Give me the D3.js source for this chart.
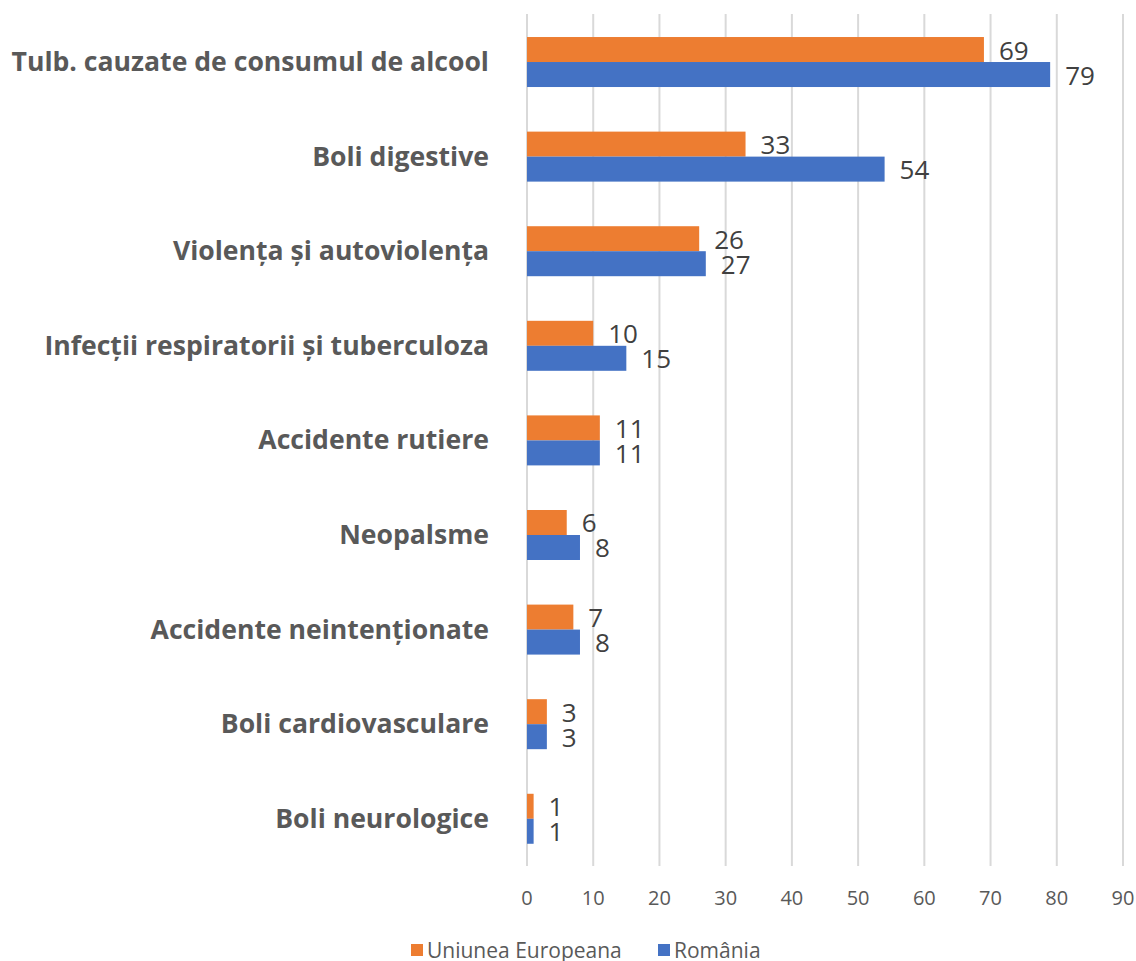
<!DOCTYPE html>
<html>
<head>
<meta charset="utf-8">
<script src="https://cdn.jsdelivr.net/npm/d3@7"></script>
<style>
  body { margin: 0; background: #fff; }
  text { font-family: "Open Sans", sans-serif; }
</style>
</head>
<body>
<div id="chart"></div>
<script>
var categories = ["Tulb. cauzate de consumul de alcool", "Boli digestive", "Violența și autoviolența",
                  "Infecții respiratorii și tuberculoza", "Accidente rutiere", "Neopalsme",
                  "Accidente neintenționate", "Boli cardiovasculare", "Boli neurologice"];
var euValues = [69, 33, 26, 10, 11, 6, 7, 3, 1];
var roValues = [79, 54, 27, 15, 11, 8, 8, 3, 1];
var seriesNames = ["Uniunea Europeana", "România"];
var colors = ["#ED7D31", "#4472C4"];
var ticks = [0, 10, 20, 30, 40, 50, 60, 70, 80, 90];

var width = 1136, height = 961;

var svg = d3.select("#chart").append("svg")
    .attr("width", width)
    .attr("height", height);

var x = d3.scaleLinear().domain([0, 90]).range([527, 1123]);
var y = d3.scaleBand().domain(categories).range([14.7, 866.1]).paddingInner(0.4715).paddingOuter(0.236);
var sub = d3.scaleBand().domain([0, 1]).range([0, y.bandwidth()]);

// gridlines (extend a bit below as tick marks)
svg.append("g").selectAll("line")
    .data(ticks)
    .enter().append("line")
    .attr("x1", d => x(d)).attr("x2", d => x(d))
    .attr("y1", 14).attr("y2", 866)
    .attr("stroke", "#d9d9d9")
    .attr("stroke-width", 2);

// tick labels
svg.append("g").selectAll("text")
    .data(ticks)
    .enter().append("text")
    .attr("x", d => x(d))
    .attr("y", 905)
    .attr("text-anchor", "middle")
    .attr("fill", "#595959")
    .style("font-size", "20px")
    .text(d => d);

var data = categories.map((c, i) => ({cat: c, vals: [euValues[i], roValues[i]]}));

var groups = svg.append("g").selectAll("g")
    .data(data)
    .enter().append("g")
    .attr("transform", d => "translate(0," + y(d.cat) + ")");

groups.selectAll("rect")
    .data(d => d.vals)
    .enter().append("rect")
    .attr("x", x(0))
    .attr("y", (d, j) => sub(j))
    .attr("width", d => x(d) - x(0))
    .attr("height", sub.bandwidth())
    .attr("fill", (d, j) => colors[j]);

groups.selectAll("text.val")
    .data(d => d.vals)
    .enter().append("text")
    .attr("class", "val")
    .attr("x", d => x(d) + 15)
    .attr("y", (d, j) => sub(j) + sub.bandwidth() / 2 + 10)
    .attr("fill", "#404040")
    .style("font-size", "26px")
    .text(d => d);

// category labels
svg.append("g").selectAll("text")
    .data(categories)
    .enter().append("text")
    .attr("x", 489)
    .attr("y", d => y(d) + y.bandwidth() / 2 + 9)
    .attr("text-anchor", "end")
    .attr("fill", "#595959")
    .style("font-size", "26.6px")
    .style("font-weight", "bold")
    .text(d => d);

// legend
var legendX = [411, 658];
var legend = svg.append("g").selectAll("g")
    .data(seriesNames)
    .enter().append("g")
    .attr("transform", (d, i) => "translate(" + legendX[i] + ",944)");

legend.append("rect")
    .attr("width", 12).attr("height", 12)
    .attr("fill", (d, i) => colors[i]);

legend.append("text")
    .attr("x", 16).attr("y", 14)
    .attr("fill", "#595959")
    .style("font-size", "21px")
    .text(d => d);
</script>
</body>
</html>
